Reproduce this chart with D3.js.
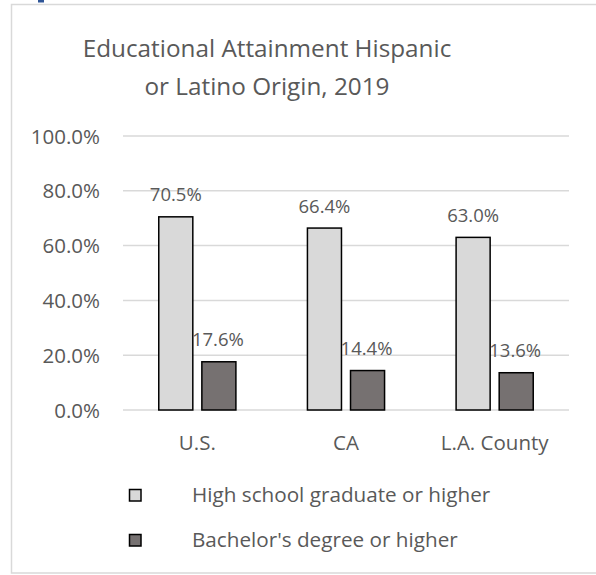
<!DOCTYPE html>
<html>
<head>
<meta charset="utf-8">
<script src="https://cdn.jsdelivr.net/npm/d3@7"></script>
<style>
  html, body { margin: 0; padding: 0; background: #fff; }
  svg { display: block; }
  text { font-family: "Open Sans", "Noto Sans", sans-serif; fill: #595959; }
</style>
</head>
<body>
<svg id="chart" width="596" height="575"></svg>
<script>
// Educational attainment, population of Hispanic or Latino origin, 2019
const categories = ["U.S.", "CA", "L.A. County"];
const seriesNames = ["High school graduate or higher", "Bachelor's degree or higher"];
const highSchool = [70.5, 66.4, 63.0];
const bachelors = [17.6, 14.4, 13.6];
const yTicks = [0, 20, 40, 60, 80, 100];
const titleLines = ["Educational Attainment Hispanic", "or Latino Origin, 2019"];

const seriesValues = [highSchool, bachelors];
const fills = ["#d9d9d9", "#767171"];

const svg = d3.select("#chart");
const W = 596;

// chart area frame
svg.append("rect")
  .attr("x", 11.5).attr("y", 4.5)
  .attr("width", W).attr("height", 568.5)
  .attr("fill", "#fff").attr("stroke", "#d9d9d9").attr("stroke-width", 1.5);

// small heading mark above the frame
svg.append("rect")
  .attr("x", 38).attr("y", 0).attr("width", 6).attr("height", 2.5)
  .attr("fill", "#2f5597");

// title
svg.append("text")
  .attr("x", 267).attr("y", 57)
  .attr("text-anchor", "middle")
  .style("font-size", "24.3px")
  .selectAll("tspan").data(titleLines).join("tspan")
  .attr("x", 267)
  .attr("dy", (d, i) => i === 0 ? 0 : 38)
  .text(d => d);

const plot = { left: 123, right: 569, top: 136, bottom: 410 };

const y = d3.scaleLinear().domain([0, 100]).range([plot.bottom, plot.top]);
const x0 = d3.scaleBand().domain(categories).range([plot.left, plot.right]).paddingInner(0).paddingOuter(0);
const x1 = d3.scaleBand().domain(d3.range(seriesValues.length))
  .range([0, x0.bandwidth()]).paddingInner(0.21).paddingOuter(0.83);

// gridlines
svg.append("g")
  .selectAll("line").data(yTicks).join("line")
  .attr("x1", plot.left).attr("x2", plot.right)
  .attr("y1", d => y(d)).attr("y2", d => y(d))
  .attr("stroke", "#d9d9d9").attr("stroke-width", 1.5);

// y axis labels
const yAxis = d3.axisLeft(y).tickValues(yTicks).tickSize(0).tickPadding(0)
  .tickFormat(d => d3.format(".1f")(d) + "%");
const yg = svg.append("g").attr("transform", `translate(100,0)`).call(yAxis);
yg.select(".domain").remove();
yg.selectAll("text").style("font-size", "20.5px").attr("fill", "#595959").attr("dy", "0.35em");

// x axis labels
const xAxis = d3.axisBottom(x0).tickSize(0).tickPadding(0);
const xg = svg.append("g").attr("transform", `translate(0,${plot.bottom + 33})`).call(xAxis);
xg.select(".domain").remove();
xg.selectAll("text").style("font-size", "20.5px").attr("fill", "#595959").attr("dy", "0.35em");

// bars
const groups = svg.append("g").selectAll("g").data(categories).join("g")
  .attr("transform", d => `translate(${x0(d)},0)`);

groups.each(function(cat, ci) {
  const g = d3.select(this);
  seriesValues.forEach((vals, si) => {
    const v = vals[ci];
    g.append("rect")
      .attr("x", x1(si)).attr("y", y(v))
      .attr("width", x1.bandwidth()).attr("height", y(0) - y(v))
      .attr("fill", fills[si]).attr("stroke", "#000").attr("stroke-width", 1.5);
    g.append("text")
      .attr("x", x1(si) + x1.bandwidth() / 2 + (si === 1 ? -1 : 0))
      .attr("y", y(v) - 22)
      .attr("dy", "0.35em")
      .attr("text-anchor", "middle")
      .style("font-size", "18.5px")
      .text(d3.format(".1f")(v) + "%");
  });
});

// legend
const legend = svg.append("g").selectAll("g").data(seriesNames).join("g")
  .attr("transform", (d, i) => `translate(0,${495 + i * 45})`);
legend.append("rect")
  .attr("x", 129.5).attr("y", -5.5).attr("width", 11.5).attr("height", 11.5)
  .attr("fill", (d, i) => fills[i]).attr("stroke", "#000").attr("stroke-width", 1.5);
legend.append("text")
  .attr("x", 192).attr("y", 0).attr("dy", "0.35em")
  .style("font-size", "20.7px")
  .text(d => d);
</script>
</body>
</html>
